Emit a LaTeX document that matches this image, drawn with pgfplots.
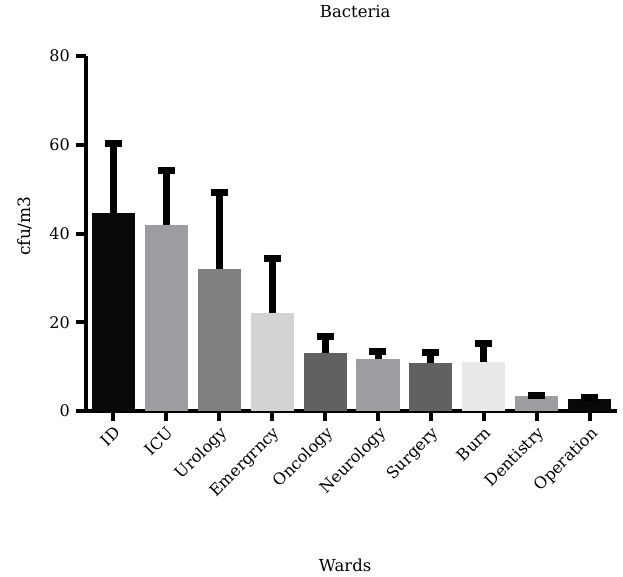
\documentclass[border=0pt]{standalone}
\usepackage{pgfplots}
\pgfplotsset{compat=1.18}
\usepackage{fontspec}
\setmainfont{DejaVu Serif}

\definecolor{cblack}{HTML}{080808}
\definecolor{cgrey}{HTML}{9C9DA1}
\definecolor{cmid}{HTML}{80807E}
\definecolor{clight}{HTML}{D3D3D3}
\definecolor{cdark}{HTML}{616161}
\definecolor{cpale}{HTML}{E8E8E8}

\begin{document}
\begin{tikzpicture}
\path[use as bounding box] (-86pt,-166pt) rectangle (537pt,411pt);
\begin{axis}[
    scale only axis,
    width=531pt, height=355pt,
    xmin=-0.51, xmax=9.51,
    ymin=0, ymax=80,
    axis x line=bottom, axis y line=left,
    axis line style={line width=4.5pt, -},
    xtick={0,...,9},
    xticklabels={ID,ICU,Urology,Emergrncy,Oncology,Neurology,Surgery,Burn,Dentistry,Operation},
    ytick={0,20,40,60,80},
    tick align=outside,
    major tick length=10pt,
    tick style={line width=4pt, black},
    /pgf/number format/assume math mode=true,
    tick label style={font=\fontsize{16}{19}\selectfont},
    xticklabel style={rotate=45, anchor=north east, inner sep=3pt},
    yticklabel style={inner sep=6pt},
    ybar, bar width=43pt, bar shift=0pt,
    error bars/error mark=|,
    error bars/error bar style={line width=7pt, black},
    error bars/error mark options={line width=7pt, mark size=8.5pt, black},
    title=Bacteria,
    title style={at={(rel axis cs:0.507,1.107)}, anchor=center, font=\fontsize{16.5}{19}\selectfont},
    xlabel=Wards,
    xlabel style={at={(rel axis cs:0.488,-0.434)}, anchor=center, font=\fontsize{16.5}{19}\selectfont},
    ylabel=cfu/m3,
    ylabel style={at={(rel axis cs:-0.115,0.521)}, anchor=center, font=\fontsize{17}{19}\selectfont},
]
\addplot[fill=cblack, draw=none, error bars/.cd, y dir=plus, y explicit] coordinates {(0,44.7) +- (0,15.6)};
\addplot[fill=cgrey,  draw=none, error bars/.cd, y dir=plus, y explicit] coordinates {(1,42.0) +- (0,12.2)};
\addplot[fill=cmid,   draw=none, error bars/.cd, y dir=plus, y explicit] coordinates {(2,32.0) +- (0,17.2)};
\addplot[fill=clight, draw=none, error bars/.cd, y dir=plus, y explicit] coordinates {(3,22.0) +- (0,12.4)};
\addplot[fill=cdark,  draw=none, error bars/.cd, y dir=plus, y explicit] coordinates {(4,13.0) +- (0,3.8)};
\addplot[fill=cgrey,  draw=none, error bars/.cd, y dir=plus, y explicit] coordinates {(5,11.7) +- (0,1.7)};
\addplot[fill=cdark,  draw=none, error bars/.cd, y dir=plus, y explicit] coordinates {(6,10.8) +- (0,2.4)};
\addplot[fill=cpale,  draw=none, error bars/.cd, y dir=plus, y explicit] coordinates {(7,11.1) +- (0,4.1)};
\addplot[fill=cgrey,  draw=none, error bars/.cd, y dir=plus, y explicit] coordinates {(8,3.3) +- (0,0.2)};
\addplot[fill=cblack, draw=none, error bars/.cd, y dir=plus, y explicit] coordinates {(9,2.8) +- (0,0.2)};
\end{axis}
\end{tikzpicture}
\end{document}
